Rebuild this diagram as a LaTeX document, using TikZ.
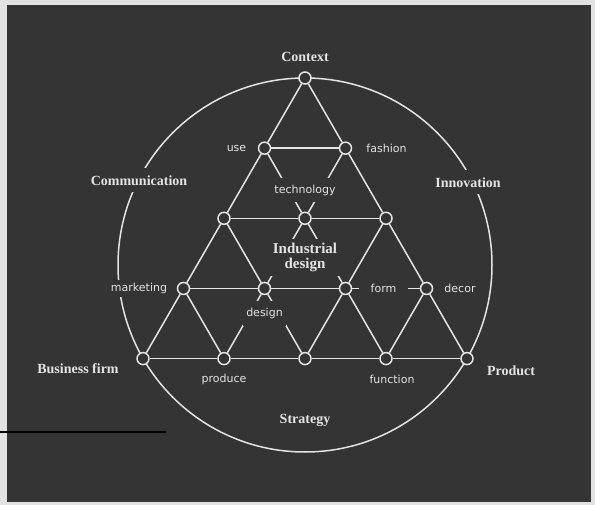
\documentclass[tikz,border=0pt]{standalone}
\usepackage{fontspec}
\usepackage{tikz}
\usetikzlibrary{positioning}
\newfontfamily\capsfont{Liberation Serif}
\newfontfamily\smallfont{DejaVu Sans}
\definecolor{board}{RGB}{52,52,52}
\definecolor{chalk}{RGB}{228,228,228}
\definecolor{paper}{RGB}{226,226,226}

\begin{document}
\begin{tikzpicture}[x=1pt, y=-1pt, on grid, node distance=70.15pt and 40.5pt,
    joint/.style={circle, draw=chalk, fill=board, line width=1.5pt, minimum size=12pt, inner sep=0pt},
    wire/.style={draw=chalk, line width=1.5pt},
    big/.style={text=chalk, font=\capsfont\bfseries\fontsize{14}{16}\selectfont, inner sep=1pt},
    small/.style={text=chalk, font=\smallfont\fontsize{11}{12}\selectfont, inner sep=1pt},
    cut/.style={fill=board}]
    \useasboundingbox (0,0) rectangle (595,505);
    \fill[paper] (0,0) rectangle (595,505);
    \fill[board] (7,5) rectangle (591,502);
    \draw[black, line width=1.5pt] (0,432) -- (166,432);
    \draw[wire] (305,265) circle[radius=187pt];

    % lattice points
    \node[joint] (ctx) at (305,78) {};
    \node[joint, below left=of ctx] (use) {};
    \node[joint, below right=of ctx] (fash) {};
    \node[joint, below left=of use] (l2) {};
    \node[joint, below right=of use] (tech) {};
    \node[joint, below right=of fash] (r2) {};
    \node[joint, below left=of l2] (mkt) {};
    \node[joint, below right=of l2] (dsg) {};
    \node[joint, below right=of tech] (frm) {};
    \node[joint, below right=of r2] (dec) {};
    \node[joint, below left=of mkt] (biz) {};
    \node[joint, below right=of mkt] (prd) {};
    \node[joint, below right=of dsg] (mid) {};
    \node[joint, below right=of frm] (fun) {};
    \node[joint, below right=of dec] (pdt) {};

    % outer triangle
    \draw[wire] (ctx) -- (use) -- (l2) -- (mkt) -- (biz);
    \draw[wire] (ctx) -- (fash) -- (r2) -- (dec) -- (pdt);
    \draw[wire] (biz) -- (prd) -- (mid) -- (fun) -- (pdt);
    % rows
    \draw[wire] (use) -- (fash);
    \draw[wire] (l2) -- (tech) -- (r2);
    \draw[wire] (mkt) -- (dsg) -- (frm) -- (dec);
    % diagonals
    \draw[wire] (use) -- (tech);
    \draw[wire] (fash) -- (tech);
    \draw[wire] (l2) -- (dsg);
    \draw[wire] (tech) -- (dsg);
    \draw[wire] (tech) -- (frm);
    \draw[wire] (r2) -- (frm);
    \draw[wire] (mkt) -- (prd);
    \draw[wire] (dsg) -- (prd);
    \draw[wire] (dsg) -- (mid);
    \draw[wire] (frm) -- (mid);
    \draw[wire] (frm) -- (fun);
    \draw[wire] (dec) -- (fun);

    % labels
    \node[big, above=21pt of ctx] (ctxlbl) {Context};
    \node[small, left=28pt of use] (uselbl) {use};
    \node[small, right=41pt of fash] (fashlbl) {fashion};
    \node[small, cut, inner xsep=2pt, inner ysep=6.5pt, above=28pt of tech] (techlbl) {technology};
    \node[big, cut, font=\capsfont\bfseries\fontsize{15}{15}\selectfont, align=center,
          inner xsep=3pt, inner ysep=4pt, below=39pt of tech] (idlbl) {Industrial\\design};
    \node[small, cut, inner ysep=3pt, left=44.5pt of mkt] (mktlbl) {marketing};
    \node[small, cut, inner xsep=3pt, inner ysep=7pt, below=25pt of dsg] (dsglbl) {design};
    \node[small, cut, inner xsep=12pt, inner ysep=3pt, right=38pt of frm] (frmlbl) {form};
    \node[small, right=33.5pt of dec] (declbl) {decor};
    \node[big, cut, inner xsep=3pt, inner ysep=7pt, above left=38pt and 85pt of l2] (comlbl) {Communication};
    \node[big, cut, inner xsep=3pt, inner ysep=7pt, above right=36pt and 82pt of r2] (innlbl) {Innovation};
    \node[big, below left=10pt and 65pt of biz] (bizlbl) {Business firm};
    \node[big, below right=12pt and 44pt of pdt] (pdtlbl) {Product};
    \node[small, below=21pt of prd] (prdlbl) {produce};
    \node[small, below right=21pt and 6pt of fun] (funlbl) {function};
    \node[big, below=62pt of mid] (strlbl) {Strategy};
\end{tikzpicture}
\end{document}
